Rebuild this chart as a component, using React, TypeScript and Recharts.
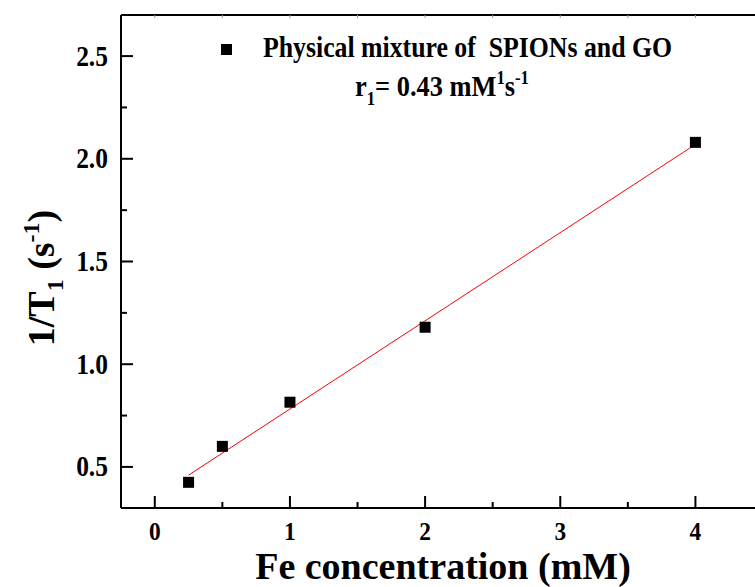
import { ComposedChart, Scatter, Line, XAxis, YAxis } from "recharts";

const FONT = '"Liberation Serif", "Times New Roman", serif';

// measured points: Fe concentration (mM) vs 1/T1 (s^-1)
const concentration = [0.25, 0.5, 1, 2, 4];
const relaxRate = [0.425, 0.6, 0.815, 1.18, 2.08];

// linear fit end points (slope ~0.43)
const fitConc = [0.25, 4];
const fitRate = [0.46, 2.07];

const xMajor = [0, 1, 2, 3, 4];
const xMajorLabels = ["0", "1", "2", "3", "4"];
const xMinor = [0.5, 1.5, 2.5, 3.5];
const yMajor = [0.5, 1.0, 1.5, 2.0, 2.5];
const yMajorLabels = ["0.5", "1.0", "1.5", "2.0", "2.5"];
const yMinor = [0.75, 1.25, 1.75, 2.25];

const points = concentration.map((x, i) => ({ x, y: relaxRate[i] }));
const fit = fitConc.map((x, i) => ({ x, y: fitRate[i] }));
const xTicks = [...xMajor, ...xMinor].sort((a, b) => a - b);
const yTicks = [...yMajor, ...yMinor].sort((a, b) => a - b);

function BottomTick({ x, y, payload }: any) {
  const i = xMajor.indexOf(payload.value);
  const major = i >= 0;
  return (
    <g>
      <line x1={x} x2={x} y1={y} y2={y - (major ? 12 : 6)} stroke="#000" strokeWidth={2} />
      {major && (
        <text
          transform={`translate(${x},${y + 32}) scale(0.9,1)`}
          textAnchor="middle"
          fontFamily={FONT}
          fontWeight="bold"
          fontSize={26}
          fill="#000"
        >
          {xMajorLabels[i]}
        </text>
      )}
    </g>
  );
}

function LeftTick({ x, y, payload }: any) {
  const i = yMajor.findIndex((v) => Math.abs(v - payload.value) < 1e-6);
  const major = i >= 0;
  return (
    <g>
      <line x1={x} x2={x + (major ? 12 : 6)} y1={y} y2={y} stroke="#000" strokeWidth={2} />
      {major && (
        <text
          transform={`translate(${x - 13},${y + 9.5}) scale(0.85,1)`}
          textAnchor="end"
          fontFamily={FONT}
          fontWeight="bold"
          fontSize={30}
          fill="#000"
        >
          {yMajorLabels[i]}
        </text>
      )}
    </g>
  );
}

function TopTick({ x, y }: any) {
  return <line x1={x} x2={x} y1={y} y2={y + 3} stroke="#999" strokeWidth={1} />;
}

function Square({ cx, cy }: any) {
  return <rect x={cx - 5.5} y={cy - 5.5} width={11} height={11} fill="#000" />;
}

export default function App() {
  return (
    <div
      style={{
        position: "absolute",
        left: 0,
        top: 0,
        width: 755,
        height: 587,
        overflow: "hidden",
        background: "#fff",
      }}
    >
      <ComposedChart
        width={800}
        height={587}
        margin={{ top: 14, right: 37, bottom: 78, left: 120 }}
      >
        <XAxis
          xAxisId="bottom"
          dataKey="x"
          type="number"
          domain={[-0.25, 4.5]}
          ticks={xTicks}
          interval={0}
          height={1}
          tickSize={0}
          tickMargin={0}
          tickLine={false}
          tick={(p: any) => <BottomTick {...p} />}
          axisLine={{ stroke: "#000", strokeWidth: 2 }}
          allowDataOverflow
        />
        <XAxis
          xAxisId="top"
          orientation="top"
          dataKey="x"
          type="number"
          domain={[-0.25, 4.5]}
          ticks={xTicks}
          interval={0}
          height={1}
          tickSize={0}
          tickMargin={0}
          tickLine={false}
          tick={(p: any) => <TopTick {...p} />}
          axisLine={{ stroke: "#000", strokeWidth: 2 }}
          allowDataOverflow
        />
        <YAxis
          dataKey="y"
          type="number"
          domain={[0.3, 2.7]}
          ticks={yTicks}
          interval={0}
          width={1}
          tickSize={0}
          tickMargin={0}
          tickLine={false}
          tick={(p: any) => <LeftTick {...p} />}
          axisLine={{ stroke: "#000", strokeWidth: 2 }}
          allowDataOverflow
        />
        <Line
          xAxisId="bottom"
          data={fit}
          dataKey="y"
          stroke="#ff0000"
          strokeWidth={1}
          dot={false}
          activeDot={false}
          isAnimationActive={false}
        />
        <Scatter
          xAxisId="bottom"
          data={points}
          dataKey="y"
          fill="#000"
          shape={(p: any) => <Square {...p} />}
          isAnimationActive={false}
        />
      </ComposedChart>
      <svg
        width={755}
        height={587}
        style={{ position: "absolute", left: 0, top: 0, pointerEvents: "none" }}
        fontFamily={FONT}
        fontWeight="bold"
        fill="#000"
      >
        <rect x={221} y={44} width={11} height={11} fill="#000" />
        <text
          x={263}
          y={57}
          fontSize={30}
          textLength={409}
          lengthAdjust="spacingAndGlyphs"
          style={{ whiteSpace: "pre" }}
        >
          Physical mixture of  SPIONs and GO
        </text>
        <g transform="translate(355,96) scale(0.88,1)">
          <text x={0} y={0} fontSize={30}>
            r<tspan fontSize={19} dy={9}>1</tspan>
            <tspan fontSize={30} dy={-9}>= 0.43 mM</tspan>
            <tspan fontSize={19} dy={-12}>1</tspan>
            <tspan fontSize={30} dy={12}>s</tspan>
            <tspan fontSize={19} dy={-12}>-1</tspan>
          </text>
        </g>
        <text x={443} y={579} textAnchor="middle" fontSize={38}>
          Fe concentration (mM)
        </text>
        <text transform="translate(54,278) rotate(-90)" textAnchor="middle" fontSize={38}>
          1/T<tspan fontSize={24} dy={9}>1</tspan>
          <tspan fontSize={38} dy={-9}> (s</tspan>
          <tspan fontSize={24} dy={-15}>-1</tspan>
          <tspan fontSize={38} dy={15}>)</tspan>
        </text>
      </svg>
    </div>
  );
}
